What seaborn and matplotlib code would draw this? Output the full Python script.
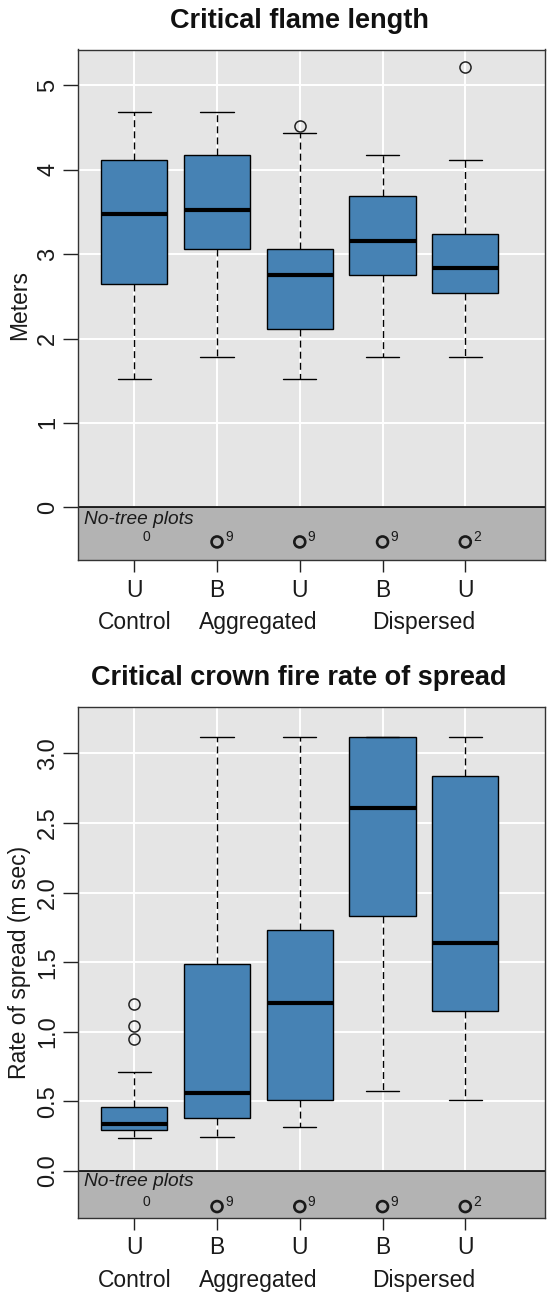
import matplotlib
matplotlib.use("Agg")
import matplotlib.pyplot as plt
import seaborn as sns
import pandas as pd

# Treatment layout
positions = [1, 2, 3, 4, 5]
treatments = ["U", "B", "U", "B", "U"]
groups = ["Control", "Aggregated", "Dispersed"]
group_centers = [1.0, 2.5, 4.5]
no_tree_counts = [0, 9, 9, 9, 2]

# Critical flame length (m): five-number summaries and outliers
flame_low = [1.52, 1.78, 1.52, 1.78, 1.78]
flame_q1 = [2.65, 3.06, 2.11, 2.75, 2.54]
flame_med = [3.47, 3.52, 2.75, 3.15, 2.84]
flame_q3 = [4.12, 4.18, 3.06, 3.69, 3.24]
flame_high = [4.68, 4.68, 4.43, 4.18, 4.12]
flame_out = [[], [], [4.52], [], [5.22]]

# Critical crown fire rate of spread (m/sec)
spread_low = [0.235, 0.245, 0.315, 0.575, 0.51]
spread_q1 = [0.295, 0.38, 0.51, 1.835, 1.15]
spread_med = [0.335, 0.56, 1.205, 2.605, 1.64]
spread_q3 = [0.46, 1.485, 1.73, 3.12, 2.835]
spread_high = [0.71, 3.12, 3.12, 3.12, 3.12]
spread_out = [[0.95, 1.04, 1.20], [], [], [], []]

PANEL = "#E5E5E5"
STRIP = "#B3B3B3"
BOX = "#4682B4"
FRAME = "#333333"
INK = "#1A1A1A"

sns.set_theme(style="darkgrid", rc={
    "axes.facecolor": PANEL,
    "axes.edgecolor": FRAME,
    "axes.linewidth": 1.0,
    "grid.color": "white",
    "grid.linewidth": 1.4,
    "xtick.bottom": True,
    "ytick.left": True,
})
plt.rcParams["font.family"] = ["Liberation Sans", "DejaVu Sans"]

W, H = 547, 1297
fig = plt.figure(figsize=(W / 100, H / 100), dpi=100)


def make_axes(top_px, bottom_px):
    left, right = 78, 545
    return fig.add_axes([left / W, 1 - bottom_px / H, (right - left) / W,
                         (bottom_px - top_px) / H])


def draw_panel(ax, low, q1, med, q3, high, out, ylim, yticks, ylabels,
               notree_y, notree_text_y):
    stats = []
    for i in range(len(positions)):
        stats.append(dict(whislo=low[i], q1=q1[i], med=med[i], q3=q3[i],
                          whishi=high[i], fliers=out[i]))
    ax.bxp(stats, positions=positions, widths=0.8, capwidths=0.4,
           patch_artist=True, showfliers=True,
           boxprops=dict(facecolor=BOX, edgecolor="black", linewidth=1.0),
           medianprops=dict(color="black", linewidth=3.0, solid_capstyle="butt"),
           whiskerprops=dict(color="black", linewidth=1.0, linestyle=(0, (5, 3))),
           capprops=dict(color="black", linewidth=1.0),
           flierprops=dict(marker="o", markerfacecolor="none",
                           markeredgecolor="#222222", markersize=8,
                           markeredgewidth=1.1),
           zorder=3)

    ax.set_xlim(0.32, 5.963)
    ax.set_ylim(*ylim)
    ax.axhspan(ylim[0], 0, color=STRIP, zorder=1.5, linewidth=0)
    ax.axhline(0, color="black", linewidth=1.2, zorder=2)

    ax.set_yticks(yticks)
    ax.set_yticklabels(ylabels, rotation=90, va="center", fontsize=17, color=INK)
    ax.set_xticks(positions)
    ax.set_xticklabels(treatments, fontsize=16.5, color=INK)
    ax.tick_params(axis="y", length=10.5, width=1.0, pad=3, color="#222222")
    ax.tick_params(axis="x", length=8.5, width=1.0, pad=5, color="#222222")
    for s in ax.spines.values():
        s.set_visible(True)
        s.set_color(FRAME)
        s.set_linewidth(1.0)

    # no-tree plot strip
    ax.text(0.012, notree_text_y, "No-tree plots", style="italic", fontsize=13.8,
            color=INK, transform=ax.get_yaxis_transform(), va="center",
            ha="left", zorder=4)
    nt = pd.DataFrame({"x": positions, "n": no_tree_counts})
    shown = nt[nt["n"] > 0].assign(y=notree_y)
    sns.scatterplot(data=shown, x="x", y="y", ax=ax, marker="o", s=62,
                    facecolor="none", edgecolor="#1A1A1A", linewidth=1.9,
                    zorder=4, legend=False)
    for x, n in zip(positions, no_tree_counts):
        ax.annotate(str(n), (x, notree_y), xytext=(8.5, 3.5),
                    textcoords="offset points", fontsize=10, ha="center",
                    va="center", color=INK, zorder=4)
    ax.set_xlabel("")
    ax.set_ylabel("")

    for name, xc in zip(groups, group_centers):
        ax.text(xc, -0.122, name, transform=ax.get_xaxis_transform(),
                ha="center", va="center", fontsize=16.5, color=INK)


ax1 = make_axes(49.5, 560)
draw_panel(ax1, flame_low, flame_q1, flame_med, flame_q3, flame_high, flame_out,
           (-0.624, 5.424), [0, 1, 2, 3, 4, 5], ["0", "1", "2", "3", "4", "5"],
           -0.41, -0.15)

ax2 = make_axes(706.7, 1217.7)
spread_ticks = [0.0, 0.5, 1.0, 1.5, 2.0, 2.5, 3.0]
draw_panel(ax2, spread_low, spread_q1, spread_med, spread_q3, spread_high, spread_out,
           (-0.336, 3.336), spread_ticks, [f"{t:.1f}" for t in spread_ticks],
           -0.256, -0.077)

fig.text(299 / W, 1 - 21 / H, "Critical flame length", ha="center", va="center",
         fontsize=19.5, fontweight="bold", color="#111111")
fig.text(299 / W, 1 - 678 / H, "Critical crown fire rate of spread", ha="center",
         va="center", fontsize=19.5, fontweight="bold", color="#111111")
fig.text(20 / W, 1 - 305 / H, "Meters", rotation=90, ha="center", va="center",
         fontsize=16.5, color=INK)
fig.text(20 / W, 1 - 962 / H, "Rate of spread (m sec)", rotation=90, ha="center",
         va="center", fontsize=16.5, color=INK)

fig.savefig("out.png", dpi=100)
